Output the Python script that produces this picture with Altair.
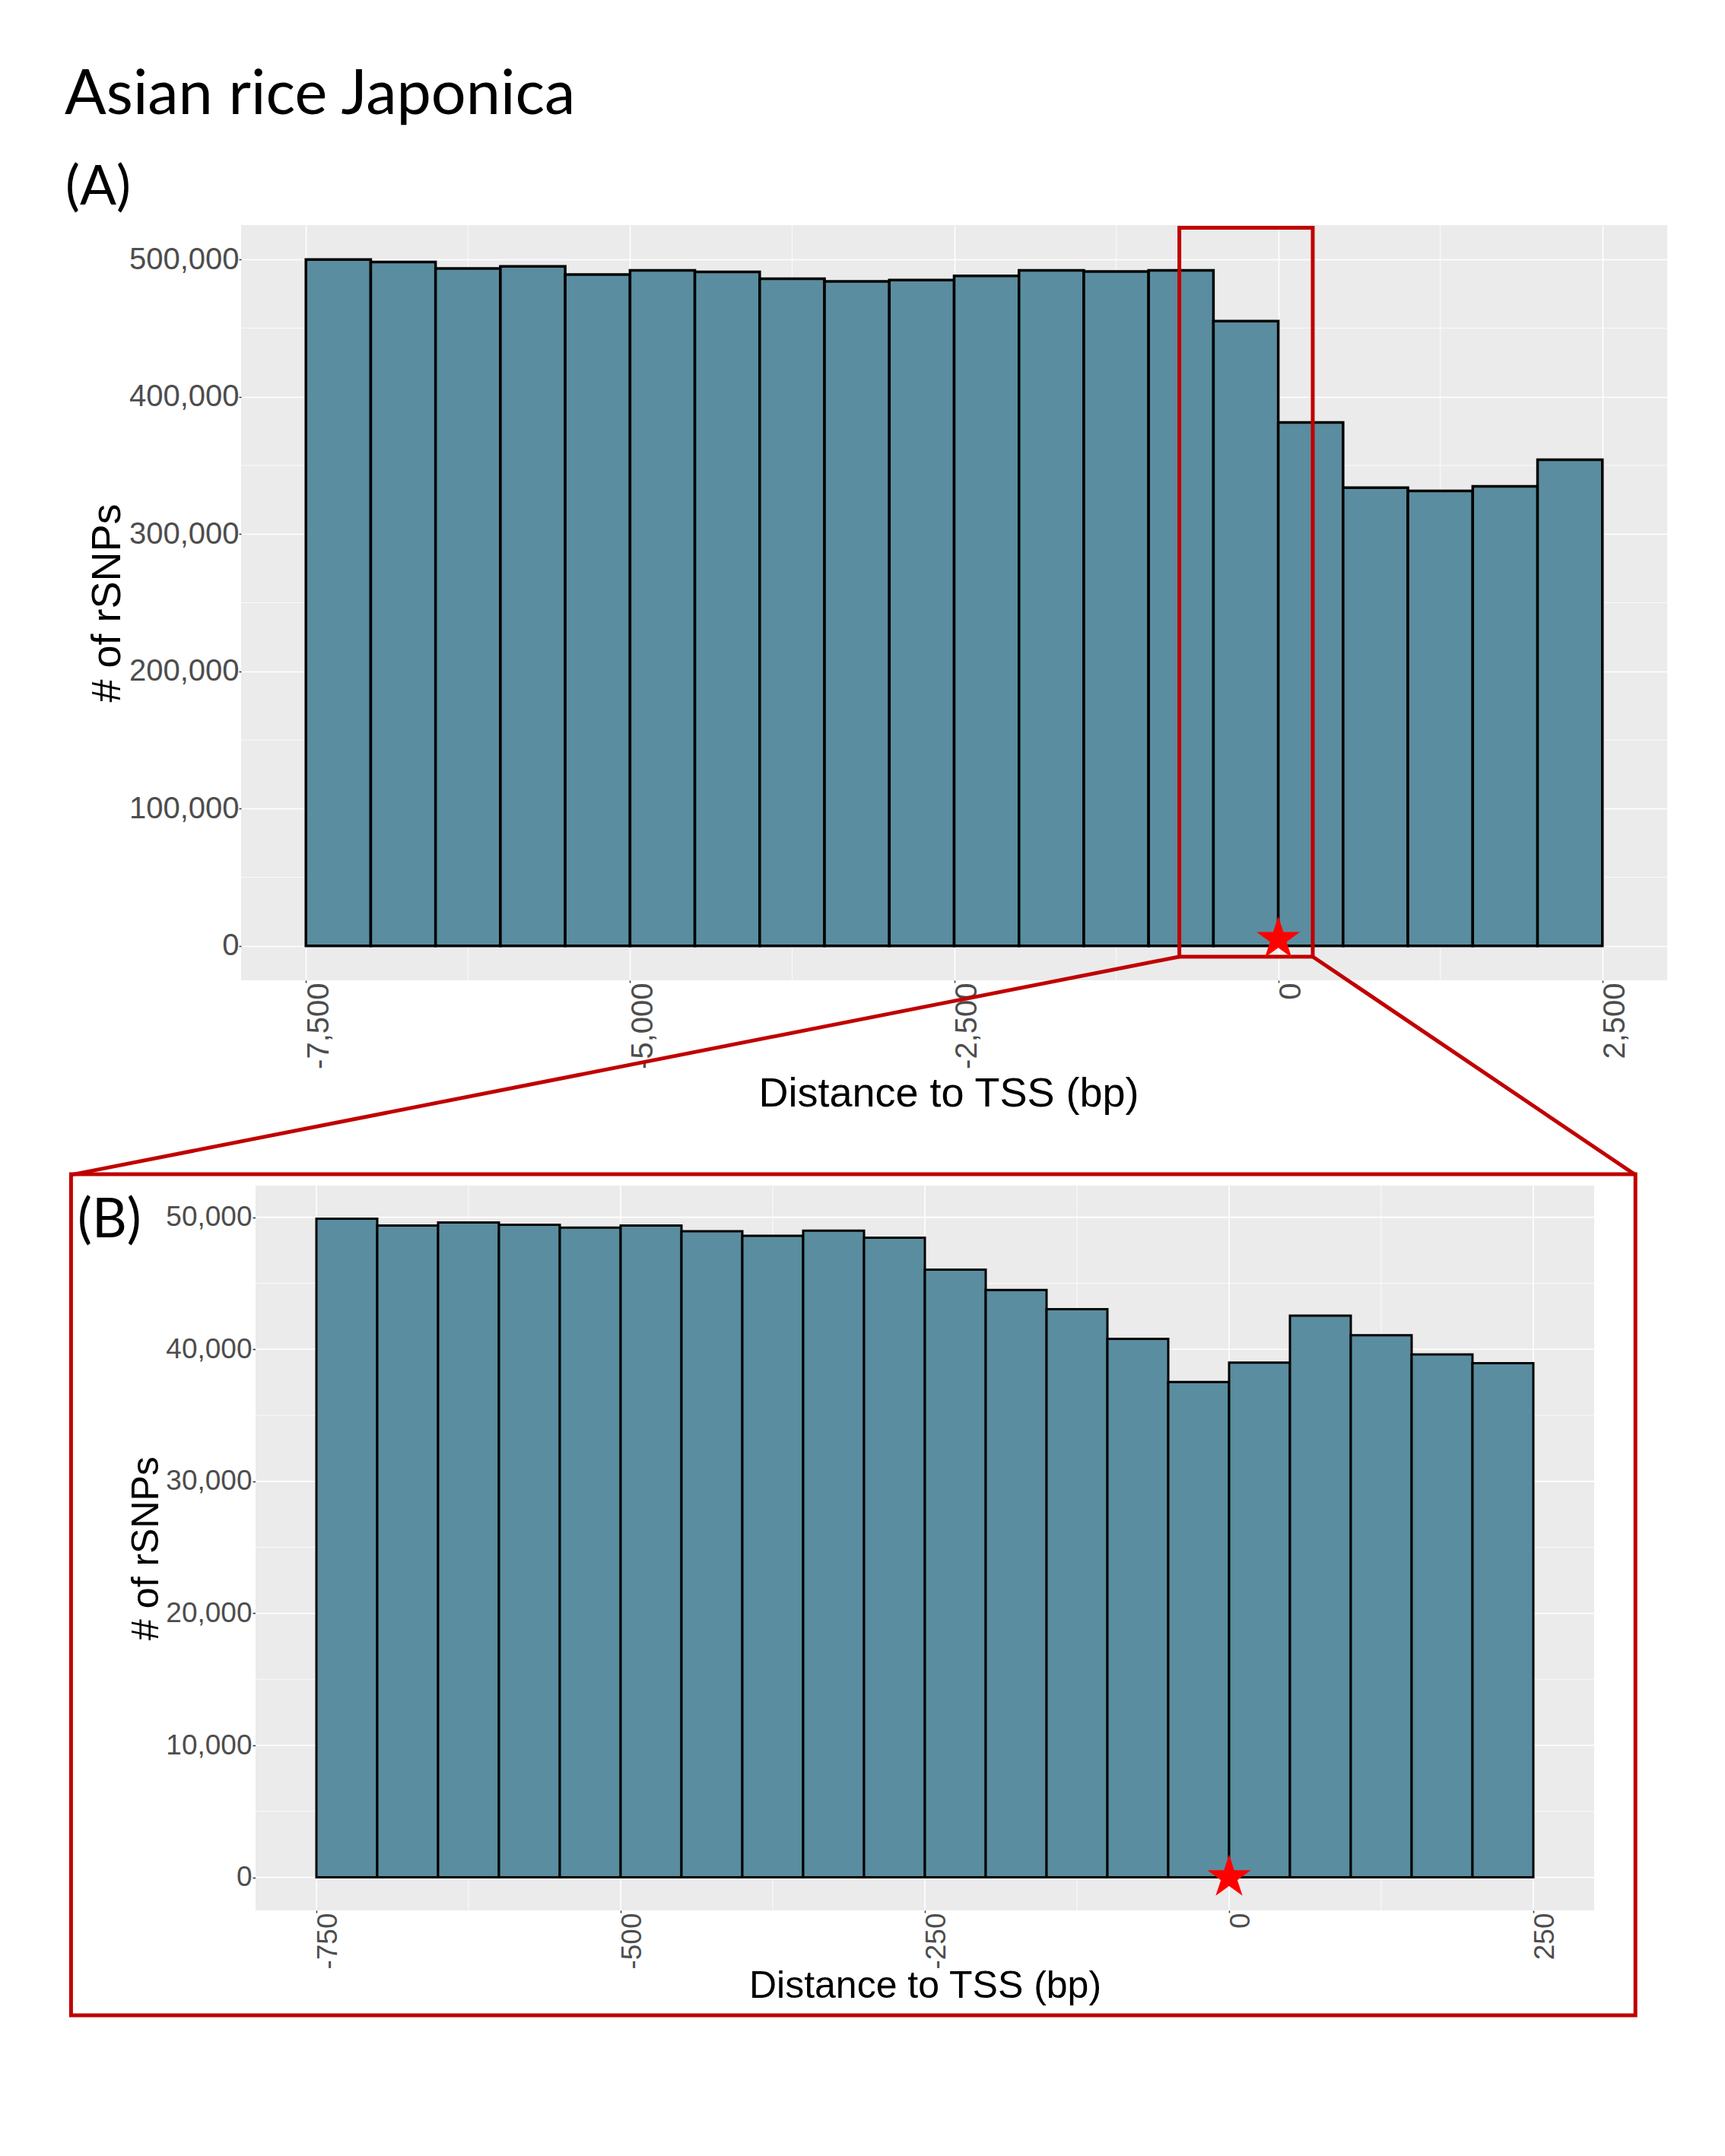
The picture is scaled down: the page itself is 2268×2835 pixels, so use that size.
import altair as alt
import pandas as pd

# ---------------- data ----------------
panel_title = ["Asian rice Japonica"]
panel_tags = ["(A)", "(B)"]

# Panel A: 500-bp bins from -7,500 to 2,500
a_bin_start = [-7500, -7000, -6500, -6000, -5500, -5000, -4500, -4000, -3500, -3000,
               -2500, -2000, -1500, -1000, -500, 0, 500, 1000, 1500, 2000]
a_bin_width = 500
a_counts = [500000, 498200, 493400, 495000, 489000, 492000, 491000, 486000, 484000, 485000,
            488000, 492000, 491200, 492000, 455100, 381300, 333800, 331400, 334700, 354100]

# Panel B: 50-bp bins from -750 to 250
b_bin_start = [-750, -700, -650, -600, -550, -500, -450, -400, -350, -300,
               -250, -200, -150, -100, -50, 0, 50, 100, 150, 200]
b_bin_width = 50
b_counts = [49900, 49380, 49600, 49430, 49210, 49380, 48950, 48600, 48990, 48460,
            46040, 44500, 43040, 40790, 37530, 38990, 42550, 41060, 39610, 38950]

a_x_ticks = [-7500, -5000, -2500, 0, 2500]
a_y_ticks = [0, 100000, 200000, 300000, 400000, 500000]
a_x_minor = [-6250, -3750, -1250, 1250]
a_y_minor = [50000, 150000, 250000, 350000, 450000]

b_x_ticks = [-750, -500, -250, 0, 250]
b_y_ticks = [0, 10000, 20000, 30000, 40000, 50000]
b_x_minor = [-625, -375, -125, 125]
b_y_minor = [5000, 15000, 25000, 35000, 45000]

# zoom window drawn on panel A (data units of A)
zoom_x = [-763, 266]
zoom_y = [-7800, 523000]
# where the connectors meet the inset frame (A data units)
link_x = [-9312, 2755]
link_y = -166740

tss_star_a = [0, 5000]
tss_star_b = [0, 0]

# ---------------- style ----------------
BAR_FILL = "#5A8D9F"
PANEL_BG = "#EBEBEB"
DARK_RED = "#C00000"
STAR = ("M0,-1L0.2245,-0.309L0.9511,-0.309L0.3633,0.118L0.5878,0.809L0,0.382"
        "L-0.5878,0.809L-0.3633,0.118L-0.9511,-0.309L-0.2245,-0.309Z")
AX_FONT = "Liberation Sans"
TITLE_FONT = "Lato"
LABEL_EXPR = "(datum.value < 0 ? '-' : '') + format(abs(datum.value), ',.0f')"

# ================= Panel A =================
A_W, A_H = 1875, 993
ax_x = alt.Scale(domain=[-8000, 3000], nice=False, zero=False)
ax_y = alt.Scale(domain=[-25000, 525000], nice=False, zero=False)

dfA = pd.DataFrame({"start": a_bin_start,
                    "end": [s + a_bin_width for s in a_bin_start],
                    "count": a_counts})

xA_axis = alt.Axis(values=a_x_ticks, labelExpr=LABEL_EXPR, labelAngle=270, labelAlign="right",
                   labelBaseline="top", labelFont=AX_FONT, labelFontSize=40,
                   labelColor="#4D4D4D", labelPadding=0, labelOffset=-3,
                   labelFlush=False, labelOverlap=False,
                   tickColor="#333333", tickSize=3, tickWidth=1.5, domain=False,
                   grid=True, gridColor="white", gridWidth=1.6,
                   title="Distance to TSS (bp)", titleFont=AX_FONT, titleFontSize=54,
                   titleFontWeight="normal", titleColor="black",
                   titleBaseline="alphabetic", titleAlign="center",
                   titleX=930, titleY=165)
yA_axis = alt.Axis(values=a_y_ticks, labelExpr=LABEL_EXPR, labelFont=AX_FONT, labelFontSize=40,
                   labelColor="#4D4D4D", labelPadding=0, labelFlush=False,
                   tickColor="#333333", tickSize=3, tickWidth=1.5, domain=False,
                   grid=True, gridColor="white", gridWidth=1.6,
                   title="# of rSNPs", titleFont=AX_FONT, titleFontSize=54,
                   titleFontWeight="normal", titleColor="black", titleAngle=270,
                   titleBaseline="alphabetic", titleAlign="center",
                   titleX=-160, titleY=A_H / 2)

barsA = alt.Chart(dfA).mark_rect(fill=BAR_FILL, stroke="black", strokeWidth=3.5).encode(
    x=alt.X("start:Q", scale=ax_x, axis=xA_axis),
    x2="end:Q",
    y=alt.Y("count:Q", scale=ax_y, axis=yA_axis),
    y2=alt.datum(0),
)
minorAx = alt.Chart(pd.DataFrame({"v": a_x_minor})).mark_rule(
    color="white", strokeWidth=0.8).encode(x=alt.X("v:Q", scale=ax_x))
minorAy = alt.Chart(pd.DataFrame({"v": a_y_minor})).mark_rule(
    color="white", strokeWidth=0.8).encode(y=alt.Y("v:Q", scale=ax_y))

zoomA = alt.Chart(pd.DataFrame({"x": [zoom_x[0]], "x2": [zoom_x[1]],
                                "y": [zoom_y[0]], "y2": [zoom_y[1]]})).mark_rect(
    fillOpacity=0, stroke=DARK_RED, strokeWidth=5).encode(
    x=alt.X("x:Q", scale=ax_x), x2="x2:Q", y=alt.Y("y:Q", scale=ax_y), y2="y2:Q")

linksA = alt.Chart(pd.DataFrame({"x": zoom_x, "y": [zoom_y[0], zoom_y[0]],
                                 "x2": link_x, "y2": [link_y, link_y]})).mark_rule(
    color=DARK_RED, strokeWidth=5).encode(
    x=alt.X("x:Q", scale=ax_x), y=alt.Y("y:Q", scale=ax_y), x2="x2:Q", y2="y2:Q")

starA = alt.Chart(pd.DataFrame({"x": [tss_star_a[0]], "y": [tss_star_a[1]]})).mark_point(
    shape=STAR, filled=True, color="#FF0000", size=3600, opacity=1, strokeWidth=0).encode(
    x=alt.X("x:Q", scale=ax_x), y=alt.Y("y:Q", scale=ax_y))

titleA = alt.Chart(pd.DataFrame({"t": panel_title})).mark_text(
    align="left", baseline="alphabetic", font=TITLE_FONT, fontSize=81, color="black").encode(
    x=alt.value(-232), y=alt.value(-146), text="t:N")
tagA = alt.Chart(pd.DataFrame({"t": [panel_tags[0]]})).mark_text(
    align="left", baseline="alphabetic", font=TITLE_FONT, fontSize=71, color="black").encode(
    x=alt.value(-231), y=alt.value(-27), text="t:N")

panelA = alt.layer(minorAx, minorAy, barsA, zoomA, linksA, starA, titleA, tagA).properties(
    width=A_W, height=A_H, view=alt.ViewBackground(fill=PANEL_BG, strokeWidth=0))

# ================= Panel B =================
B_W, B_H = 1779, 953
bx = alt.Scale(domain=[-811.875, 300], nice=False, zero=False)
by = alt.Scale(domain=[-2500, 52400], nice=False, zero=False)

dfB = pd.DataFrame({"start": b_bin_start,
                    "end": [s + b_bin_width for s in b_bin_start],
                    "count": b_counts})

xB_axis = alt.Axis(values=b_x_ticks, labelExpr=LABEL_EXPR, labelAngle=270, labelAlign="right",
                   labelBaseline="top", labelFont=AX_FONT, labelFontSize=37,
                   labelColor="#4D4D4D", labelPadding=0, labelOffset=-3,
                   labelFlush=False, labelOverlap=False,
                   tickColor="#333333", tickSize=3, tickWidth=1.5, domain=False, grid=False,
                   title="Distance to TSS (bp)", titleFont=AX_FONT, titleFontSize=50,
                   titleFontWeight="normal", titleColor="black",
                   titleBaseline="alphabetic", titleAlign="center",
                   titleX=899, titleY=114)
yB_axis = alt.Axis(values=b_y_ticks, labelExpr=LABEL_EXPR, labelFont=AX_FONT, labelFontSize=37,
                   labelColor="#4D4D4D", labelPadding=1, labelFlush=False, offset=-19,
                   tickColor="#333333", tickSize=4, tickWidth=1.5, domain=False, grid=False,
                   title="# of rSNPs", titleFont=AX_FONT, titleFontSize=50,
                   titleFontWeight="normal", titleColor="black", titleAngle=270,
                   titleBaseline="alphabetic", titleAlign="center",
                   titleX=-128.5, titleY=B_H / 2)

bgB = alt.Chart(pd.DataFrame({"x": [-800], "x2": [300], "y": [-2500], "y2": [52400]})).mark_rect(
    fill=PANEL_BG).encode(
    x=alt.X("x:Q", scale=bx, axis=xB_axis), x2="x2:Q",
    y=alt.Y("y:Q", scale=by, axis=yB_axis), y2="y2:Q")

minorBx = alt.Chart(pd.DataFrame({"v": b_x_minor})).mark_rule(
    color="white", strokeWidth=0.8).encode(x=alt.X("v:Q", scale=bx))
minorBy = alt.Chart(pd.DataFrame({"v": b_y_minor})).mark_rule(
    color="white", strokeWidth=0.8).encode(
    y=alt.Y("v:Q", scale=by), x=alt.datum(-800), x2=alt.datum(300))
majorBx = alt.Chart(pd.DataFrame({"v": b_x_ticks})).mark_rule(
    color="white", strokeWidth=1.6).encode(x=alt.X("v:Q", scale=bx))
majorBy = alt.Chart(pd.DataFrame({"v": b_y_ticks})).mark_rule(
    color="white", strokeWidth=1.6).encode(
    y=alt.Y("v:Q", scale=by), x=alt.datum(-800), x2=alt.datum(300))

barsB = alt.Chart(dfB).mark_rect(fill=BAR_FILL, stroke="black", strokeWidth=3).encode(
    x=alt.X("start:Q", scale=bx), x2="end:Q",
    y=alt.Y("count:Q", scale=by), y2=alt.datum(0))

starB = alt.Chart(pd.DataFrame({"x": [tss_star_b[0]], "y": [tss_star_b[1]]})).mark_point(
    shape=STAR, filled=True, color="#FF0000", size=3600, opacity=1, strokeWidth=0).encode(
    x=alt.X("x:Q", scale=bx), y=alt.Y("y:Q", scale=by))

frameB = alt.Chart(pd.DataFrame({"k": [1]})).mark_rect(
    fillOpacity=0, stroke=DARK_RED, strokeWidth=5).encode(
    x=alt.value(-223.6), x2=alt.value(1833.2), y=alt.value(-15.1), y2=alt.value(1090.9))

tagB = alt.Chart(pd.DataFrame({"t": [panel_tags[1]]})).mark_text(
    align="left", baseline="alphabetic", font=TITLE_FONT, fontSize=71, color="black").encode(
    x=alt.value(-215), y=alt.value(67.5), text="t:N")

panelB = alt.layer(bgB, minorBx, minorBy, majorBx, majorBy, barsB, starB, frameB, tagB).properties(
    width=B_W, height=B_H, view=alt.ViewBackground(strokeWidth=0))

chart = alt.vconcat(panelA, panelB, spacing=-7).properties(
    padding={"left": 77, "top": 77, "right": 20, "bottom": 20}
).configure(background="white").configure_view(strokeWidth=0)

chart.save("out.html", embed_options={"renderer": "svg", "actions": False})
